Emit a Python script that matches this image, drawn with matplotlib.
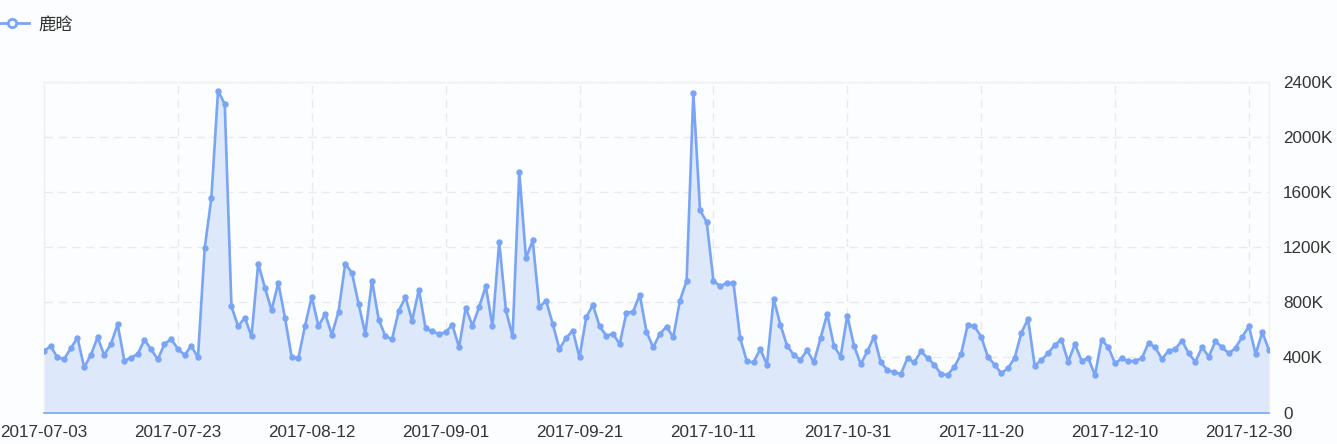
import matplotlib.pyplot as plt
import matplotlib.dates as mdates
from matplotlib.lines import Line2D
from matplotlib.ticker import FuncFormatter
import numpy as np
import pandas as pd

plt.rcParams['font.family'] = ['Liberation Sans', 'Noto Sans CJK SC', 'DejaVu Sans']

# daily values in thousands, starting 2017-07-03
values = [
    448, 480, 400, 388, 465, 543, 327, 417, 545, 417,
    497, 640, 376, 398, 424, 528, 458, 385, 497, 533,
    461, 417, 482, 400, 1190, 1556, 2334, 2237, 770, 625,
    688, 554, 1081, 906, 741, 941, 687, 400, 393, 630,
    841, 625, 715, 565, 732, 1079, 1013, 788, 570, 957,
    674, 553, 533, 739, 836, 667, 892, 611, 589, 570,
    582, 635, 473, 761, 630, 764, 916, 625, 1239, 744,
    553, 1745, 1120, 1248, 764, 812, 642, 461, 541, 594,
    400, 691, 780, 625, 558, 570, 497, 722, 732, 853,
    587, 473, 570, 623, 545, 812, 955, 2315, 1467, 1382,
    957, 916, 940, 938, 538, 371, 364, 461, 347, 824,
    638, 485, 419, 381, 453, 364, 538, 715, 485, 405,
    703, 485, 351, 444, 550, 364, 308, 291, 279, 395,
    364, 444, 395, 347, 279, 274, 332, 424, 638, 625,
    550, 405, 347, 284, 322, 395, 577, 679, 339, 381,
    429, 490, 528, 368, 497, 376, 395, 271, 528, 473,
    356, 393, 371, 376, 393, 504, 473, 388, 448, 461,
    521, 429, 368, 473, 405, 516, 473, 429, 468, 550,
    625, 424, 582, 453,
]
dates = pd.date_range('2017-07-03', periods=len(values), freq='D')
tick_dates = pd.date_range('2017-07-03', '2017-12-30', freq='20D')
y_ticks = [0, 400, 800, 1200, 1600, 2000, 2400]
series_name = '鹿晗'

line_color = '#7aa5f5'
fill_color = '#dde8fb'
bg = '#fcfdfe'
grid_color = '#e6ebf2'
text_color = '#333333'

fig = plt.figure(figsize=(13.37, 4.44), dpi=100, facecolor=bg)
ax = fig.add_axes([44 / 1337, 31.5 / 444, 1225 / 1337, 330.8 / 444])
ax.set_facecolor(bg)

ax.fill_between(dates, values, 0, color=fill_color, zorder=2)
ax.plot(dates, values, color=line_color, lw=1.9, marker='o', ms=3.6,
        mfc=line_color, mec=line_color, zorder=3)

ax.set_xlim(dates[0], dates[-1])
ax.set_ylim(0, 2400)

ax.yaxis.tick_right()
ax.set_yticks(y_ticks)
ax.yaxis.set_major_formatter(FuncFormatter(lambda v, p: '0' if v == 0 else f'{int(v)}K'))
ax.set_xticks(tick_dates)
ax.xaxis.set_major_formatter(mdates.DateFormatter('%Y-%m-%d'))
ax.tick_params(axis='both', length=0, labelsize=12.3, colors=text_color)
ax.tick_params(axis='y', pad=10)
ax.tick_params(axis='x', pad=9)

ax.grid(True, color=grid_color, ls=(0, (6, 4)), lw=1, zorder=1)
for s in ['top', 'left', 'right']:
    ax.spines[s].set_color('#edf1f6')
    ax.spines[s].set_linewidth(1)
ax.spines['bottom'].set_color(line_color)
ax.spines['bottom'].set_linewidth(1.2)
ax.spines['bottom'].set_zorder(4)

handle = Line2D([], [], color=line_color, lw=2, marker='o', ms=6,
                mfc=bg, mec=line_color, mew=2)
fig.legend([handle], [series_name], loc='center left',
           bbox_to_anchor=(-0.016, 0.945), frameon=False,
           fontsize=12.5, handlelength=2.0, handletextpad=0.55,
           labelcolor=text_color)

fig.savefig('out.png', dpi=100, facecolor=bg)
